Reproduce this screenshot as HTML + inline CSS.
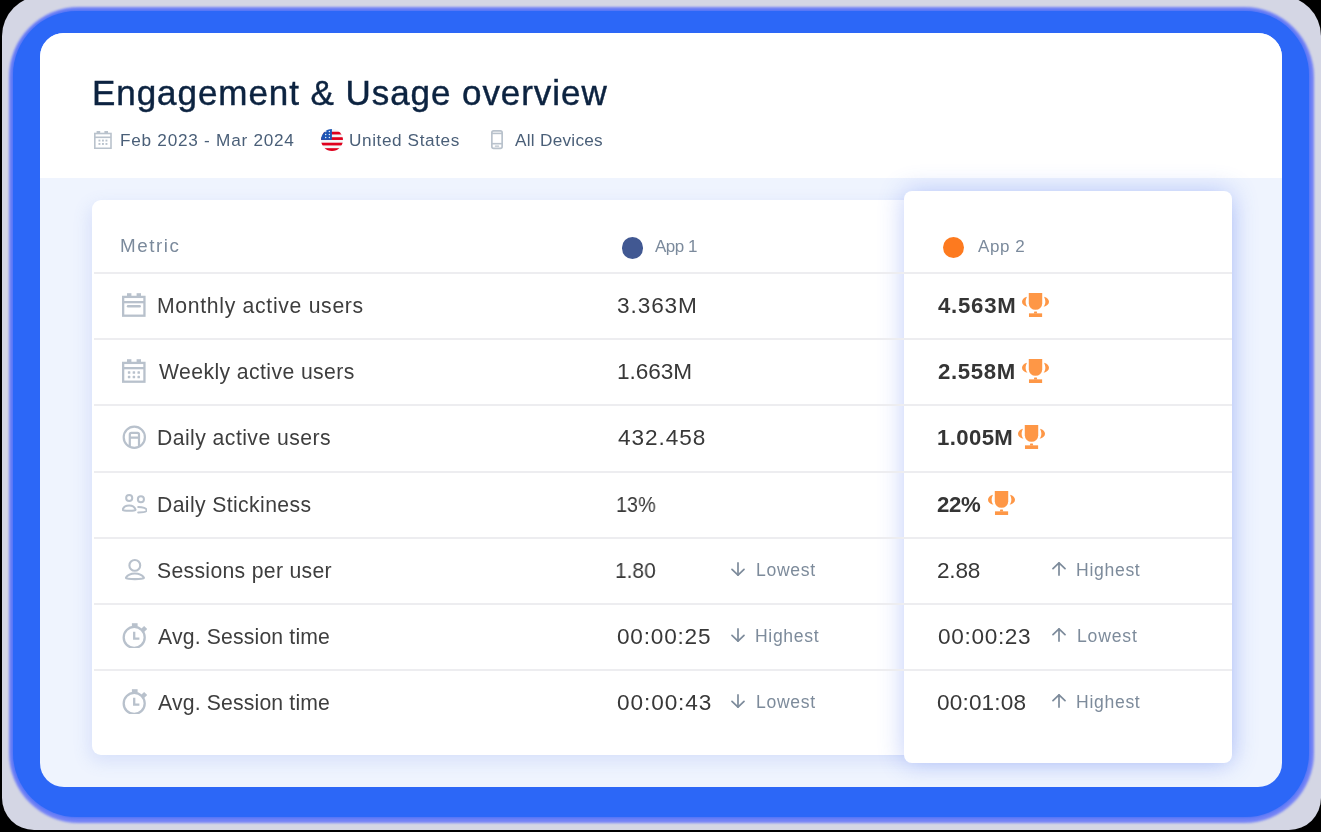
<!DOCTYPE html>
<html><head><meta charset="utf-8"><style>
*{margin:0;padding:0;box-sizing:border-box}
html,body{width:1321px;height:832px;overflow:hidden;background:#000}
body{position:relative;font-family:"Liberation Sans",sans-serif}
.a{position:absolute}
.t{position:absolute;white-space:nowrap;line-height:1;will-change:transform}
.sep{position:absolute;height:2px;background:#ededf0}
</style></head><body>
<div class="a" style="left:1.5px;top:-4px;width:1319px;height:834px;border-radius:40px 40px 32px 32px;background:#d4d6e4"></div>
<div class="a" style="left:8.5px;top:7px;width:1305px;height:815.5px;border-radius:70px;background:#7583f6;filter:blur(0.8px)"></div>
<div class="a" style="left:12.5px;top:11px;width:1296px;height:806px;border-radius:64px;background:#2c67f7;box-shadow:0 0 3px 1px #4a72f6"></div>
<div class="a" style="left:40px;top:33px;width:1242px;height:754px;border-radius:24px;background:#eff4fe;overflow:hidden">
  <div class="a" style="left:0;top:0;width:1242px;height:145px;background:#fff"></div>
</div>
<div class="a" style="left:92px;top:200px;width:1139px;height:554.5px;border-radius:9px;background:#fff;box-shadow:-2px 6px 18px rgba(90,120,230,0.16)"></div>
<div class="a" style="left:904px;top:191px;width:327.5px;height:572px;border-radius:8px;background:#fff;box-shadow:0 0 26px rgba(60,100,240,0.32)"></div>

<div class="sep" style="left:94px;top:272.1px;width:810px;height:1.9px"></div>
<div class="sep" style="left:904px;top:272.1px;width:327.5px;height:1.9px"></div>
<div class="sep" style="left:94px;top:338.27px;width:810px;height:1.9px"></div>
<div class="sep" style="left:904px;top:338.27px;width:327.5px;height:1.9px"></div>
<div class="sep" style="left:94px;top:404.44px;width:810px;height:1.9px"></div>
<div class="sep" style="left:904px;top:404.44px;width:327.5px;height:1.9px"></div>
<div class="sep" style="left:94px;top:470.61px;width:810px;height:1.9px"></div>
<div class="sep" style="left:904px;top:470.61px;width:327.5px;height:1.9px"></div>
<div class="sep" style="left:94px;top:536.78px;width:810px;height:1.9px"></div>
<div class="sep" style="left:904px;top:536.78px;width:327.5px;height:1.9px"></div>
<div class="sep" style="left:94px;top:602.95px;width:810px;height:1.9px"></div>
<div class="sep" style="left:904px;top:602.95px;width:327.5px;height:1.9px"></div>
<div class="sep" style="left:94px;top:669.12px;width:810px;height:1.9px"></div>
<div class="sep" style="left:904px;top:669.12px;width:327.5px;height:1.9px"></div>
<svg class="a" style="left:94px;top:131px" width="18" height="18" viewBox="0 0 18 18"><rect x="0.8" y="2.5" width="16.2" height="14.8" fill="none" stroke="#b9c2cc" stroke-width="1.6"/><rect x="2.6" y="0" width="3.6" height="2.5" fill="#b9c2cc"/><rect x="10.4" y="0" width="3.6" height="2.5" fill="#b9c2cc"/><rect x="0.5" y="5.5" width="16.6" height="1.6" fill="#b9c2cc"/><g fill="#b9c2cc"><rect x="4.5" y="8.6" width="1.9" height="1.9"/><rect x="8" y="8.6" width="1.9" height="1.9"/><rect x="11.5" y="8.6" width="1.9" height="1.9"/><rect x="4.5" y="12" width="1.9" height="1.9"/><rect x="8" y="12" width="1.9" height="1.9"/><rect x="11.5" y="12" width="1.9" height="1.9"/></g></svg>
<svg class="a" style="left:321px;top:129px" width="22" height="22" viewBox="0 0 22 22"><defs><clipPath id="fc"><circle cx="11" cy="11" r="10.95"/></clipPath></defs><g clip-path="url(#fc)"><rect width="22" height="22" fill="#f3f7f8"/><rect y="2.74" width="22" height="2.74" fill="#e0001d"/><rect y="8.22" width="22" height="2.74" fill="#e0001d"/><rect y="13.7" width="22" height="2.74" fill="#e0001d"/><rect y="19.18" width="22" height="2.9" fill="#e0001d"/><rect width="10.9" height="10.9" fill="#1d55b5"/><g fill="#e8eef8"><circle cx="4.7" cy="2.6" r="0.75"/><circle cx="8.4" cy="2.6" r="0.75"/><circle cx="4.7" cy="5.6" r="0.75"/><circle cx="8.4" cy="5.6" r="0.75"/><circle cx="4.7" cy="8.6" r="0.75"/><circle cx="8.4" cy="8.6" r="0.75"/></g></g></svg>
<svg class="a" style="left:491px;top:130.4px" width="12" height="19.2" viewBox="0 0 12 19.2"><rect x="0.85" y="0.85" width="10.3" height="17.5" rx="1.8" fill="none" stroke="#b9c2cc" stroke-width="1.7"/><rect x="0.8" y="2.6" width="10.4" height="1.6" fill="#b9c2cc"/><rect x="0.8" y="12.9" width="10.4" height="1.6" fill="#b9c2cc"/><rect x="3.8" y="15.6" width="4.4" height="1.2" rx="0.6" fill="#b9c2cc"/></svg>
<div class="a" style="left:621.8px;top:237.4px;width:21.2px;height:21.2px;border-radius:50%;background:#415892"></div>
<div class="a" style="left:943px;top:236.6px;width:21.2px;height:21.2px;border-radius:50%;background:#fd7a1f"></div>
<svg class="a" style="left:122.0px;top:293.2px" width="25" height="25" viewBox="0 0 25 25"><rect x="1.15" y="3.9" width="21.3" height="18.8" fill="none" stroke="#b8c1cc" stroke-width="2.3"/><rect x="5" y="0.2" width="4.4" height="3" fill="#b8c1cc"/><rect x="14.6" y="0.2" width="4.4" height="3" fill="#b8c1cc"/><rect x="1" y="8" width="21.5" height="2.3" fill="#b8c1cc"/><rect x="4.8" y="12.1" width="14.1" height="2.4" rx="1.2" fill="#b8c1cc"/></svg>
<svg class="a" style="left:122.0px;top:359.3px" width="25" height="25" viewBox="0 0 25 25"><rect x="1.15" y="3.9" width="21.3" height="18.8" fill="none" stroke="#b8c1cc" stroke-width="2.3"/><rect x="5" y="0.2" width="4.4" height="3" fill="#b8c1cc"/><rect x="14.6" y="0.2" width="4.4" height="3" fill="#b8c1cc"/><rect x="1" y="8" width="21.5" height="2.3" fill="#b8c1cc"/><rect x="5.85" y="12.25" width="2.5" height="2.5" rx="0.6" fill="#b8c1cc"/><rect x="5.85" y="16.85" width="2.5" height="2.5" rx="0.6" fill="#b8c1cc"/><rect x="10.65" y="12.25" width="2.5" height="2.5" rx="0.6" fill="#b8c1cc"/><rect x="10.65" y="16.85" width="2.5" height="2.5" rx="0.6" fill="#b8c1cc"/><rect x="15.45" y="12.25" width="2.5" height="2.5" rx="0.6" fill="#b8c1cc"/><rect x="15.45" y="16.85" width="2.5" height="2.5" rx="0.6" fill="#b8c1cc"/></svg>
<svg class="a" style="left:122.0px;top:425.3px" width="25" height="25" viewBox="0 0 25 25"><g fill="none" stroke="#b8c1cc" stroke-width="2.2"><circle cx="12.3" cy="12.3" r="10.6"/><path d="M7.8 21.6 V9.5 Q7.8 7.9 9.4 7.9 H15.4 Q17 7.9 17 9.5 V21.6 M7.8 12.6 H17"/></g></svg>
<svg class="a" style="left:122.0px;top:491.2px" width="25" height="25" viewBox="0 0 25 25"><g fill="none" stroke="#b8c1cc" stroke-width="2" stroke-linecap="round"><circle cx="7.2" cy="7.0" r="3.05"/><circle cx="18.9" cy="8.2" r="3.05"/><path d="M0.7 18.5 C1.5 15.8 4.4 14.4 7.15 14.4 C9.9 14.4 12.7 15.8 13.5 18.5 C13.7 19.5 11.5 19.7 7.15 19.7 C2.8 19.7 0.5 19.5 0.7 18.5 Z"/><path d="M16.2 15.9 C20.7 15.9 24.8 17.4 24.8 19.2 C24.8 20.8 20.7 21.4 16.2 21.4"/></g></svg>
<svg class="a" style="left:122.0px;top:557.2px" width="25" height="25" viewBox="0 0 25 25"><g fill="none" stroke="#b8c1cc" stroke-width="2.1" stroke-linecap="round"><circle cx="12.8" cy="8.4" r="5.4"/><path d="M4 20.6 C5.6 18 9 16.5 12.9 16.5 C16.8 16.5 20.2 18 21.9 20.6 C22.4 21.8 17.5 22.1 12.9 22.1 C8.3 22.1 3.4 21.8 4 20.6 Z"/></g></svg>
<svg class="a" style="left:122.0px;top:622.6px" width="25" height="25" viewBox="0 0 25 25"><g fill="none" stroke="#b8c1cc" stroke-width="2.3"><circle cx="12.2" cy="14.4" r="10.5"/><path d="M12.2 8.8 V15.6 H17.4" stroke-linejoin="miter"/></g><rect x="9.9" y="0.2" width="5.7" height="3.6" fill="#b8c1cc"/><rect x="19.9" y="3.8" width="4.4" height="4.4" transform="rotate(45 22.1 6.0)" fill="#b8c1cc"/></svg>
<svg class="a" style="left:122.0px;top:688.8px" width="25" height="25" viewBox="0 0 25 25"><g fill="none" stroke="#b8c1cc" stroke-width="2.3"><circle cx="12.2" cy="14.4" r="10.5"/><path d="M12.2 8.8 V15.6 H17.4" stroke-linejoin="miter"/></g><rect x="9.9" y="0.2" width="5.7" height="3.6" fill="#b8c1cc"/><rect x="19.9" y="3.8" width="4.4" height="4.4" transform="rotate(45 22.1 6.0)" fill="#b8c1cc"/></svg>
<svg class="a" style="left:1022.1px;top:293.2px" width="27" height="24" viewBox="0 0 26.7 23.7"><path d="M6.7 0 H20 V10 A6.65 6.65 0 0 1 6.7 10 Z" fill="#fe9746"/>
<path d="M4.9 3.6 C1.8 4.4 0 6.4 0 8.6 C0 10.9 1.9 12.8 5.4 13.6 C4.3 12.2 3.6 10.5 3.6 8.6 C3.6 6.8 4.2 5 4.9 3.6 Z" fill="#fe9746"/>
<path d="M21.8 3.6 C24.9 4.4 26.7 6.4 26.7 8.6 C26.7 10.9 24.8 12.8 21.3 13.6 C22.4 12.2 23.1 10.5 23.1 8.6 C23.1 6.8 22.5 5 21.8 3.6 Z" fill="#fe9746"/>
<path d="M12.2 18.2 H14.6 L15.1 20.3 H11.7 Z" fill="#fe9746"/><rect x="6.9" y="20.1" width="13" height="3.6" fill="#fe9746"/></svg>
<svg class="a" style="left:1022.1px;top:359.2px" width="27" height="24" viewBox="0 0 26.7 23.7"><path d="M6.7 0 H20 V10 A6.65 6.65 0 0 1 6.7 10 Z" fill="#fe9746"/>
<path d="M4.9 3.6 C1.8 4.4 0 6.4 0 8.6 C0 10.9 1.9 12.8 5.4 13.6 C4.3 12.2 3.6 10.5 3.6 8.6 C3.6 6.8 4.2 5 4.9 3.6 Z" fill="#fe9746"/>
<path d="M21.8 3.6 C24.9 4.4 26.7 6.4 26.7 8.6 C26.7 10.9 24.8 12.8 21.3 13.6 C22.4 12.2 23.1 10.5 23.1 8.6 C23.1 6.8 22.5 5 21.8 3.6 Z" fill="#fe9746"/>
<path d="M12.2 18.2 H14.6 L15.1 20.3 H11.7 Z" fill="#fe9746"/><rect x="6.9" y="20.1" width="13" height="3.6" fill="#fe9746"/></svg>
<svg class="a" style="left:1018.4px;top:425.2px" width="27" height="24" viewBox="0 0 26.7 23.7"><path d="M6.7 0 H20 V10 A6.65 6.65 0 0 1 6.7 10 Z" fill="#fe9746"/>
<path d="M4.9 3.6 C1.8 4.4 0 6.4 0 8.6 C0 10.9 1.9 12.8 5.4 13.6 C4.3 12.2 3.6 10.5 3.6 8.6 C3.6 6.8 4.2 5 4.9 3.6 Z" fill="#fe9746"/>
<path d="M21.8 3.6 C24.9 4.4 26.7 6.4 26.7 8.6 C26.7 10.9 24.8 12.8 21.3 13.6 C22.4 12.2 23.1 10.5 23.1 8.6 C23.1 6.8 22.5 5 21.8 3.6 Z" fill="#fe9746"/>
<path d="M12.2 18.2 H14.6 L15.1 20.3 H11.7 Z" fill="#fe9746"/><rect x="6.9" y="20.1" width="13" height="3.6" fill="#fe9746"/></svg>
<svg class="a" style="left:987.8px;top:491.2px" width="27" height="24" viewBox="0 0 26.7 23.7"><path d="M6.7 0 H20 V10 A6.65 6.65 0 0 1 6.7 10 Z" fill="#fe9746"/>
<path d="M4.9 3.6 C1.8 4.4 0 6.4 0 8.6 C0 10.9 1.9 12.8 5.4 13.6 C4.3 12.2 3.6 10.5 3.6 8.6 C3.6 6.8 4.2 5 4.9 3.6 Z" fill="#fe9746"/>
<path d="M21.8 3.6 C24.9 4.4 26.7 6.4 26.7 8.6 C26.7 10.9 24.8 12.8 21.3 13.6 C22.4 12.2 23.1 10.5 23.1 8.6 C23.1 6.8 22.5 5 21.8 3.6 Z" fill="#fe9746"/>
<path d="M12.2 18.2 H14.6 L15.1 20.3 H11.7 Z" fill="#fe9746"/><rect x="6.9" y="20.1" width="13" height="3.6" fill="#fe9746"/></svg>
<svg class="a" style="left:730.8px;top:562.2px" width="14" height="14" viewBox="0 0 14 14"><g fill="none" stroke="#7d8b9b" stroke-width="1.7" stroke-linecap="round" stroke-linejoin="round"><path d="M7 0.9 V13"/><path d="M1 7.3 L7 13.2 L13 7.3"/></g></svg>
<svg class="a" style="left:730.8px;top:628.2px" width="14" height="14" viewBox="0 0 14 14"><g fill="none" stroke="#7d8b9b" stroke-width="1.7" stroke-linecap="round" stroke-linejoin="round"><path d="M7 0.9 V13"/><path d="M1 7.3 L7 13.2 L13 7.3"/></g></svg>
<svg class="a" style="left:730.8px;top:694.2px" width="14" height="14" viewBox="0 0 14 14"><g fill="none" stroke="#7d8b9b" stroke-width="1.7" stroke-linecap="round" stroke-linejoin="round"><path d="M7 0.9 V13"/><path d="M1 7.3 L7 13.2 L13 7.3"/></g></svg>
<svg class="a" style="left:1051.7px;top:562.2px" width="14" height="14" viewBox="0 0 14 14"><g fill="none" stroke="#7d8b9b" stroke-width="1.7" stroke-linecap="round" stroke-linejoin="round"><path d="M7 13.1 V1"/><path d="M1 6.7 L7 0.8 L13 6.7"/></g></svg>
<svg class="a" style="left:1051.7px;top:628.2px" width="14" height="14" viewBox="0 0 14 14"><g fill="none" stroke="#7d8b9b" stroke-width="1.7" stroke-linecap="round" stroke-linejoin="round"><path d="M7 13.1 V1"/><path d="M1 6.7 L7 0.8 L13 6.7"/></g></svg>
<svg class="a" style="left:1051.7px;top:694.2px" width="14" height="14" viewBox="0 0 14 14"><g fill="none" stroke="#7d8b9b" stroke-width="1.7" stroke-linecap="round" stroke-linejoin="round"><path d="M7 13.1 V1"/><path d="M1 6.7 L7 0.8 L13 6.7"/></g></svg>
<div class="t" style="left:91.93px;top:75.00px;font-size:35px;letter-spacing:0.939px;color:#0c2340;-webkit-text-stroke:0.45px #0c2340">Engagement &amp; Usage overview</div>
<div class="t" style="left:119.79px;top:132.00px;font-size:17.2px;letter-spacing:0.744px;color:#4a5f78">Feb 2023 - Mar 2024</div>
<div class="t" style="left:349.17px;top:132.00px;font-size:17.2px;letter-spacing:0.591px;color:#4a5f78">United States</div>
<div class="t" style="left:515.27px;top:132.00px;font-size:17.2px;letter-spacing:0.269px;color:#4a5f78">All Devices</div>
<div class="t" style="left:119.96px;top:237.00px;font-size:18.8px;letter-spacing:1.552px;color:#7b8a9c">Metric</div>
<div class="t" style="left:654.77px;top:238.00px;font-size:17px;letter-spacing:-0.491px;color:#7b8a9c">App 1</div>
<div class="t" style="left:977.77px;top:238.00px;font-size:17px;letter-spacing:0.591px;color:#7b8a9c">App 2</div>
<div class="t" style="left:156.96px;top:295.00px;font-size:21.2px;letter-spacing:0.688px;color:#3e3e3e">Monthly active users</div>
<div class="t" style="left:158.61px;top:361.00px;font-size:21.2px;letter-spacing:0.409px;color:#3e3e3e">Weekly active users</div>
<div class="t" style="left:157.46px;top:427.00px;font-size:21.2px;letter-spacing:0.440px;color:#3e3e3e">Daily active users</div>
<div class="t" style="left:157.46px;top:494.00px;font-size:21.2px;letter-spacing:0.378px;color:#3e3e3e">Daily Stickiness</div>
<div class="t" style="left:157.34px;top:560.00px;font-size:21.2px;letter-spacing:0.314px;color:#3e3e3e">Sessions per user</div>
<div class="t" style="left:158.26px;top:626.00px;font-size:21.2px;letter-spacing:0.169px;color:#3e3e3e">Avg. Session time</div>
<div class="t" style="left:158.26px;top:692.00px;font-size:21.2px;letter-spacing:0.169px;color:#3e3e3e">Avg. Session time</div>
<div class="t" style="left:616.74px;top:295.00px;font-size:22.6px;letter-spacing:0.907px;color:#383838">3.363M</div>
<div class="t" style="left:616.68px;top:361.00px;font-size:22.6px;letter-spacing:-0.081px;color:#383838">1.663M</div>
<div class="t" style="left:617.78px;top:427.00px;font-size:22.6px;letter-spacing:0.951px;color:#383838">432.458</div>
<div class="t" style="left:615.89px;top:494.00px;font-size:22.6px;letter-spacing:0.000px;color:#383838;transform:scaleX(0.8758);transform-origin:0 0">13%</div>
<div class="t" style="left:615.11px;top:560.00px;font-size:22.6px;letter-spacing:0.000px;color:#383838;transform:scaleX(0.9255);transform-origin:0 0">1.80</div>
<div class="t" style="left:616.62px;top:626.00px;font-size:22.6px;letter-spacing:0.794px;color:#383838">00:00:25</div>
<div class="t" style="left:616.62px;top:692.00px;font-size:22.6px;letter-spacing:0.915px;color:#383838">00:00:43</div>
<div class="t" style="left:938.06px;top:295.00px;font-size:22.2px;letter-spacing:0.755px;color:#353535;font-weight:700">4.563M</div>
<div class="t" style="left:938.43px;top:361.00px;font-size:22.2px;letter-spacing:0.642px;color:#353535;font-weight:700">2.558M</div>
<div class="t" style="left:936.60px;top:427.00px;font-size:22.2px;letter-spacing:0.367px;color:#353535;font-weight:700">1.005M</div>
<div class="t" style="left:937.23px;top:494.00px;font-size:22.2px;letter-spacing:-0.289px;color:#353535;font-weight:700">22%</div>
<div class="t" style="left:936.86px;top:560.00px;font-size:22.6px;letter-spacing:-0.222px;color:#383838">2.88</div>
<div class="t" style="left:938.32px;top:626.00px;font-size:22.6px;letter-spacing:0.672px;color:#383838">00:00:23</div>
<div class="t" style="left:937.12px;top:692.00px;font-size:22.6px;letter-spacing:0.156px;color:#383838">00:01:08</div>
<div class="t" style="left:756.06px;top:562.00px;font-size:17.6px;letter-spacing:0.662px;color:#7d8b9b">Lowest</div>
<div class="t" style="left:755.26px;top:628.00px;font-size:17.6px;letter-spacing:0.650px;color:#7d8b9b">Highest</div>
<div class="t" style="left:756.06px;top:694.00px;font-size:17.6px;letter-spacing:0.662px;color:#7d8b9b">Lowest</div>
<div class="t" style="left:1076.06px;top:562.00px;font-size:17.6px;letter-spacing:0.683px;color:#7d8b9b">Highest</div>
<div class="t" style="left:1076.56px;top:628.00px;font-size:17.6px;letter-spacing:0.822px;color:#7d8b9b">Lowest</div>
<div class="t" style="left:1076.06px;top:694.00px;font-size:17.6px;letter-spacing:0.683px;color:#7d8b9b">Highest</div>
</body></html>
